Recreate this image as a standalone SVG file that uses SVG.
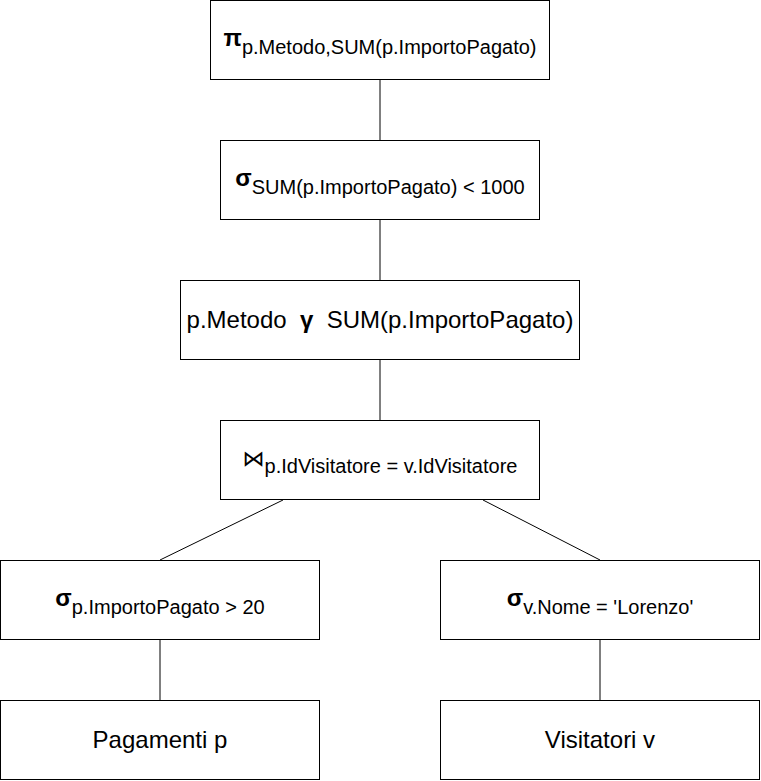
<svg xmlns="http://www.w3.org/2000/svg" width="761" height="781" viewBox="0 0 761 781">
<style>
.box{fill:#fff;stroke:#000;stroke-width:1}
.edge{stroke:#000;stroke-width:1;fill:none}
text{font-family:"Liberation Sans",Arial,Helvetica,sans-serif;fill:#000;text-anchor:middle}
.op{font-weight:bold;font-size:24px}
.sub{font-size:20px}
.main{font-size:24px}
.join{font-family:"DejaVu Sans",sans-serif;font-size:22px}
</style>
<rect width="761" height="781" fill="#fff"/>
<g id="connectors">
<line class="edge" x1="380" y1="80" x2="380" y2="140"/>
<line class="edge" x1="380" y1="220" x2="380" y2="280"/>
<line class="edge" x1="380" y1="360" x2="380" y2="420"/>
<line class="edge" x1="283" y1="500" x2="160" y2="560"/>
<line class="edge" x1="483" y1="500" x2="600" y2="560"/>
<line class="edge" x1="160" y1="640" x2="160" y2="700"/>
<line class="edge" x1="600" y1="640" x2="600" y2="700"/>
</g>
<g id="proj">
<rect class="box" x="210.5" y="0.5" width="339" height="79"/>
<text x="380" y="46"><tspan class="op">π</tspan><tspan class="sub" dy="8">p.Metodo,SUM(p.ImportoPagato)</tspan></text>
</g>
<g id="sel-having">
<rect class="box" x="220.5" y="140.5" width="319" height="79"/>
<text x="380" y="186"><tspan class="op">σ</tspan><tspan class="sub" dy="8">SUM(p.ImportoPagato) &lt; 1000</tspan></text>
</g>
<g id="group">
<rect class="box" x="180.5" y="280.5" width="399" height="79"/>
<text class="main" x="380" y="328" xml:space="preserve">p.Metodo  <tspan class="op">γ</tspan>  SUM(p.ImportoPagato)</text>
</g>
<g id="join">
<rect class="box" x="220.5" y="420.5" width="319" height="79"/>
<text x="380" y="466"><tspan class="join">⋈</tspan><tspan class="sub" dy="7">p.IdVisitatore = v.IdVisitatore</tspan></text>
</g>
<g id="sel-left">
<rect class="box" x="0.5" y="560.5" width="319" height="79"/>
<text x="160" y="606"><tspan class="op">σ</tspan><tspan class="sub" dy="8">p.ImportoPagato &gt; 20</tspan></text>
</g>
<g id="sel-right">
<rect class="box" x="440.5" y="560.5" width="319" height="79"/>
<text x="600" y="606"><tspan class="op">σ</tspan><tspan class="sub" dy="8">v.Nome = 'Lorenzo'</tspan></text>
</g>
<g id="pagamenti">
<rect class="box" x="0.5" y="700.5" width="319" height="79"/>
<text class="main" x="160" y="748">Pagamenti p</text>
</g>
<g id="visitatori">
<rect class="box" x="440.5" y="700.5" width="319" height="79"/>
<text class="main" x="600" y="748">Visitatori v</text>
</g>
</svg>
